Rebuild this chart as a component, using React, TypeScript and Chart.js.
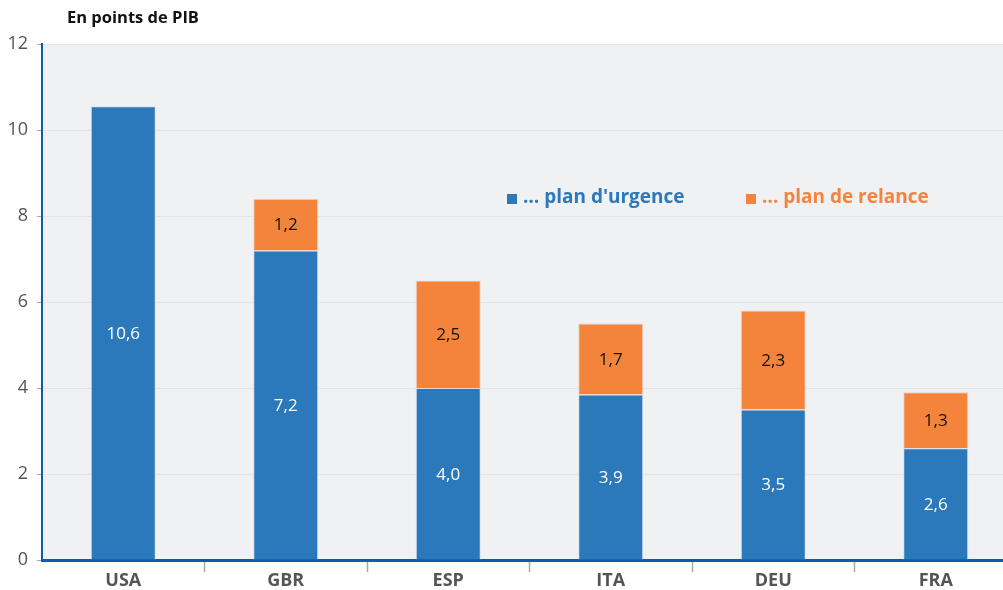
import React, { useEffect, useRef } from "react";
import { Chart, registerables } from "chart.js";

Chart.register(...registerables);

const categories = ["USA", "GBR", "ESP", "ITA", "DEU", "FRA"];
const urgenceValues = [10.55, 7.2, 4.0, 3.85, 3.5, 2.6];
const relanceValues = [0, 1.2, 2.5, 1.65, 2.3, 1.3];
const urgenceLabels = ["10,6", "7,2", "4,0", "3,9", "3,5", "2,6"];
const relanceLabels = ["", "1,2", "2,5", "1,7", "2,3", "1,3"];
const yTicks = [0, 2, 4, 6, 8, 10, 12];
const legendNames = ["… plan d'urgence", "… plan de relance"];
const yTitle = "En points de PIB";

const BLUE = "#2b78bb";
const ORANGE = "#f4843c";
const AXIS_BLUE = "#0b5cad";
const FONT = "'Open Sans', 'Noto Sans', sans-serif";

const customPlugin = {
  id: "custom",
  beforeDraw(chart: any) {
    const { ctx, chartArea } = chart;
    ctx.save();
    ctx.fillStyle = "#f0f1f3";
    ctx.fillRect(chartArea.left, chartArea.top, chartArea.right - chartArea.left, chartArea.bottom - chartArea.top);
    ctx.restore();
  },
  afterDatasetsDraw(chart: any) {
    const { ctx } = chart;
    ctx.save();
    ctx.textAlign = "center";
    ctx.textBaseline = "middle";
    ctx.font = `17px ${FONT}`;
    const sets = [
      { labels: urgenceLabels, color: "#ffffff" },
      { labels: relanceLabels, color: "#111111" },
    ];
    sets.forEach((s, di) => {
      const meta = chart.getDatasetMeta(di);
      meta.data.forEach((el: any, i: number) => {
        const txt = s.labels[i];
        if (!txt) return;
        const p = el.getProps(["x", "y", "base"], true);
        ctx.fillStyle = s.color;
        ctx.fillText(txt, p.x, (p.y + p.base) / 2 + 1);
      });
    });
    ctx.restore();
  },
  afterDraw(chart: any) {
    const { ctx } = chart;
    ctx.save();
    ctx.font = `bold 16.5px ${FONT}`;
    ctx.fillStyle = "#111111";
    ctx.textAlign = "left";
    ctx.textBaseline = "alphabetic";
    ctx.fillText(yTitle, 67, 23);
    const items = [
      { name: legendNames[0], color: BLUE, x: 507 },
      { name: legendNames[1], color: ORANGE, x: 746 },
    ];
    ctx.font = `bold 19px ${FONT}`;
    items.forEach((it) => {
      ctx.fillStyle = it.color;
      ctx.fillRect(it.x, 194, 10, 10);
      ctx.fillText(it.name, it.x + 16, 203);
    });
    ctx.restore();
  },
};

export default function App() {
  const ref = useRef<HTMLCanvasElement>(null);
  useEffect(() => {
    if (!ref.current) return;
    const chart = new Chart(ref.current, {
      type: "bar",
      data: {
        labels: categories,
        datasets: [
          {
            label: legendNames[0],
            data: urgenceValues,
            backgroundColor: BLUE,
            borderColor: "rgba(210,220,232,0.9)",
            borderWidth: 1,
            barPercentage: 0.8,
            categoryPercentage: 0.5,
          },
          {
            label: legendNames[1],
            data: relanceValues,
            backgroundColor: ORANGE,
            borderColor: "rgba(232,210,200,0.9)",
            borderWidth: 1,
            barPercentage: 0.8,
            categoryPercentage: 0.5,
          },
        ],
      },
      options: {
        animation: false,
        responsive: false,
        maintainAspectRatio: false,
        layout: { padding: { top: 44, right: 13, left: 0, bottom: 0 } },
        plugins: { legend: { display: false }, tooltip: { enabled: false } },
        scales: {
          x: {
            stacked: true,
            offset: true,
            grid: {
              offset: true,
              drawOnChartArea: false,
              drawTicks: true,
              tickLength: 12,
              tickColor: (c: any) => (c.index === 0 ? "rgba(0,0,0,0)" : "#a8a8a8"),
              tickWidth: 1.5,
            },
            border: { color: AXIS_BLUE, width: 3 },
            ticks: {
              color: "#555555",
              font: { family: FONT, size: 18, weight: "bold" },
              padding: -2,
            },
            afterFit(scale: any) {
              scale.height = 30;
            },
          },
          y: {
            stacked: true,
            min: 0,
            max: 12,
            afterBuildTicks(scale: any) {
              scale.ticks = yTicks.map((v) => ({ value: v }));
            },
            grid: {
              color: "#e3e4e7",
              lineWidth: 1,
              tickLength: 5,
              tickColor: "#a8a8a8",
            },
            border: { color: AXIS_BLUE, width: 2 },
            ticks: {
              color: "#555555",
              font: { family: FONT, size: 18 },
              padding: 9,
            },
            afterFit(scale: any) {
              scale.width = 42;
            },
          },
        },
      },
      plugins: [customPlugin],
    });
    return () => chart.destroy();
  }, []);
  return (
    <div style={{ position: "fixed", left: 0, top: 0, width: 1003, height: 590, overflow: "hidden", background: "#fff" }}>
      <canvas ref={ref} width={1030} height={590} style={{ display: "block", width: 1030, height: 590 }} />
    </div>
  );
}
